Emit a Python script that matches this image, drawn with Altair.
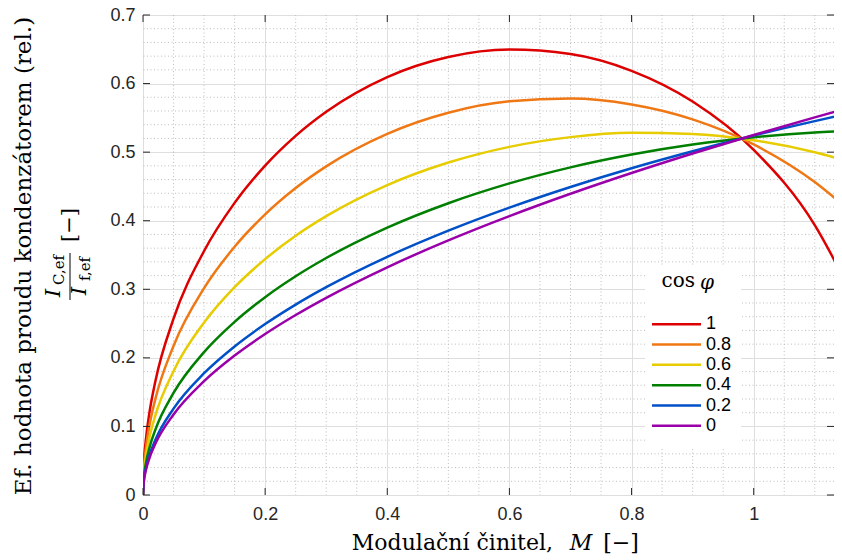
import altair as alt
import pandas as pd

# ---- data ----
m_vals = [0, 0.001, 0.005, 0.01, 0.02, 0.05, 0.1, 0.15, 0.2, 0.25, 0.3, 0.4,
          0.5, 0.6, 0.7, 0.8, 0.9, 1.0, 1.1, 1.15]
cos_labels = ["1", "0.8", "0.6", "0.4", "0.2", "0"]
y_cos10 = [0, 0.0371, 0.0829, 0.1169, 0.1647, 0.2571, 0.3558, 0.4260, 0.4803, 0.5237,
           0.5588, 0.6094, 0.6387, 0.6496, 0.6431, 0.6186, 0.5738, 0.5033, 0.3936, 0.3119]
y_cos08 = [0, 0.0313, 0.0699, 0.0987, 0.1391, 0.2174, 0.3016, 0.3620, 0.4092, 0.4476,
           0.4792, 0.5266, 0.5574, 0.5741, 0.5781, 0.5695, 0.5478, 0.5112, 0.4564, 0.4200]
y_cos06 = [0, 0.0259, 0.0579, 0.0818, 0.1153, 0.1806, 0.2514, 0.3030, 0.3440, 0.3780,
           0.4066, 0.4519, 0.4848, 0.5077, 0.5219, 0.5281, 0.5266, 0.5173, 0.4998, 0.4878]
y_cos04 = [0, 0.0213, 0.0475, 0.0671, 0.0947, 0.1488, 0.2084, 0.2525, 0.2885, 0.3190,
           0.3456, 0.3899, 0.4255, 0.4544, 0.4778, 0.4965, 0.5110, 0.5216, 0.5287, 0.5309]
y_cos02 = [0, 0.0179, 0.0400, 0.0565, 0.0799, 0.1260, 0.1776, 0.2167, 0.2493, 0.2777,
           0.3031, 0.3474, 0.3855, 0.4191, 0.4492, 0.4765, 0.5013, 0.5242, 0.5452, 0.5552]
y_cos00 = [0, 0.0166, 0.0371, 0.0525, 0.0743, 0.1174, 0.1660, 0.2034, 0.2348, 0.2625,
           0.2876, 0.3321, 0.3713, 0.4067, 0.4393, 0.4696, 0.4981, 0.5250, 0.5507, 0.5630]
series = [y_cos10, y_cos08, y_cos06, y_cos04, y_cos02, y_cos00]
colors = ["#DD0000", "#F07814", "#E6CC00", "#007F00", "#0050C8", "#9A00AA"]

x_major = [0, 0.2, 0.4, 0.6, 0.8, 1.0]
y_major = [0, 0.1, 0.2, 0.3, 0.4, 0.5, 0.6, 0.7]
x_minor = [0.05, 0.1, 0.15, 0.25, 0.3, 0.35, 0.45, 0.5, 0.55, 0.65, 0.7, 0.75,
           0.85, 0.9, 0.95, 1.05, 1.1]
y_minor = [0.02, 0.04, 0.06, 0.08, 0.12, 0.14, 0.16, 0.18, 0.22, 0.24, 0.26, 0.28,
           0.32, 0.34, 0.36, 0.38, 0.42, 0.44, 0.46, 0.48, 0.52, 0.54, 0.56, 0.58,
           0.62, 0.64, 0.66, 0.68]

rows = []
for k, (lab, ys) in enumerate(zip(cos_labels, series)):
    for mv, yv in zip(m_vals, ys):
        rows.append({"M": mv, "I": yv, "cos": lab, "k": k})
df = pd.DataFrame(rows)

W, H = 691, 480
xs = alt.Scale(domain=[0, 1.1315], nice=False, zero=False)
ys_ = alt.Scale(domain=[0, 0.7], nice=False)
cscale = alt.Scale(domain=cos_labels, range=colors)
TICKC = "#262626"
LBLFONT = "Liberation Sans"
SERIF = "DejaVu Serif"

x_axis = alt.Axis(values=x_major, format="~g", grid=True, gridColor="#dedede",
                  gridWidth=1, ticks=False, domain=False, labelFont=LBLFONT,
                  labelFontSize=18, labelColor=TICKC, labelPadding=10, title=None,
                  labelFlush=False, labelOverlap=False, labelBound=False)
y_axis = alt.Axis(values=y_major, format="~g", grid=True, gridColor="#dedede",
                  gridWidth=1, ticks=False, domain=False, labelFont=LBLFONT,
                  labelFontSize=18, labelColor=TICKC, labelPadding=8, title=None,
                  labelFlush=False, labelOverlap=False, labelBound=False)

lines = alt.Chart(df).mark_line(strokeWidth=2.5, interpolate="monotone", clip=True).encode(
    x=alt.X("M:Q", scale=xs, axis=x_axis),
    y=alt.Y("I:Q", scale=ys_, axis=y_axis),
    color=alt.Color("cos:N", scale=cscale, legend=None),
    order=alt.Order("M:Q"),
    detail="k:O",
)

minor_x = alt.Chart(pd.DataFrame({"v": x_minor})).mark_rule(
    strokeDash=[1, 2.5], color="#b8b8b8", strokeWidth=0.9).encode(
    x=alt.X("v:Q", scale=xs, axis=x_axis))
minor_y = alt.Chart(pd.DataFrame({"v": y_minor})).mark_rule(
    strokeDash=[1, 2.5], color="#b8b8b8", strokeWidth=0.9).encode(
    y=alt.Y("v:Q", scale=ys_, axis=y_axis))

xt = pd.DataFrame({"v": x_major})
yt = pd.DataFrame({"v": y_major})
tick_b = alt.Chart(xt).mark_rule(color=TICKC, strokeWidth=1).encode(
    x=alt.X("v:Q", scale=xs, axis=x_axis), y=alt.value(H), y2=alt.value(H - 7))
tick_t = alt.Chart(xt).mark_rule(color=TICKC, strokeWidth=1).encode(
    x=alt.X("v:Q", scale=xs, axis=x_axis), y=alt.value(0), y2=alt.value(7))
tick_l = alt.Chart(yt).mark_rule(color=TICKC, strokeWidth=1).encode(
    y=alt.Y("v:Q", scale=ys_, axis=y_axis), x=alt.value(0), x2=alt.value(7))
tick_r = alt.Chart(yt).mark_rule(color=TICKC, strokeWidth=1).encode(
    y=alt.Y("v:Q", scale=ys_, axis=y_axis), x=alt.value(W - 7), x2=alt.value(W))


def txt(s, x, y, size=20, style="normal", align="center", angle=0, font=SERIF):
    kw = dict(font=font, fontSize=size, fontStyle=style, align=align,
              baseline="middle", color="black")
    if angle:
        kw["angle"] = angle
    return alt.Chart(pd.DataFrame({"t": [s]})).mark_text(**kw).encode(
        text="t:N", x=alt.value(x), y=alt.value(y))


# x title pieces
xt1 = txt("Modulační činitel,", 410, 528, size=22, align="right")
xt2 = txt("M", 438, 528, size=22, style="italic")
xt3 = txt("[−]", 478, 528, size=22)
# y title
yt1 = txt("Ef. hodnota proudu kondenzátorem (rel.)", -119, 241, size=23, angle=270)
yn1 = txt("I", -89, 278, size=21, style="italic", angle=270)
yn2 = txt("C,ef", -84, 255, size=15, angle=270)
yd1 = txt("I", -63, 276, size=21, style="italic", angle=270)
yd2 = txt("f,ef", -58, 254, size=15, angle=270)
ybr = txt("[−]", -73, 210, size=21, angle=270)
fbar = alt.Chart(pd.DataFrame({"a": [0]})).mark_rule(color="black", strokeWidth=1).encode(
    x=alt.value(-73), y=alt.value(238), y2=alt.value(285))

main = alt.layer(minor_x, minor_y, lines, tick_b, tick_t, tick_l, tick_r,
                 xt1, xt2, xt3, yt1, yn1, yn2, yd1, yd2, ybr, fbar)

# ---- legend (drawn from the category list) ----
leg_df = pd.DataFrame({"cos": cos_labels})
leg_y = alt.Y("cos:N", scale=alt.Scale(domain=cos_labels, range=[299, 421], padding=0),
              axis=None)
leg_bg = alt.Chart(pd.DataFrame({"a": [0]})).mark_rect(fill="white").encode(
    x=alt.value(502), x2=alt.value(598), y=alt.value(251), y2=alt.value(432))
leg_lines = alt.Chart(leg_df).mark_rule(strokeWidth=2.5).encode(
    y=leg_y, x=alt.value(509), x2=alt.value(558),
    color=alt.Color("cos:N", scale=cscale, legend=None))
leg_text = alt.Chart(leg_df).mark_text(align="left", baseline="middle", font=LBLFONT,
                                       fontSize=18, color="black").encode(
    y=leg_y, x=alt.value(563), text="cos:N")
leg_t1 = txt("cos", 552, 266, size=20, align="right")
leg_t2 = txt("φ", 557, 268, size=20, style="italic", align="left")
legend = alt.layer(leg_bg, leg_lines, leg_text, leg_t1, leg_t2)

chart = alt.layer(main, legend).resolve_scale(y="independent").properties(
    width=W, height=H,
    autosize=alt.AutoSizeParams(type="none"),
    padding={"left": 135, "top": 7, "right": 0, "bottom": 65},
).configure_view(stroke="#262626", strokeWidth=1).configure(background="white")

chart.save("out.html", embed_options={"renderer": "svg", "actions": False})
